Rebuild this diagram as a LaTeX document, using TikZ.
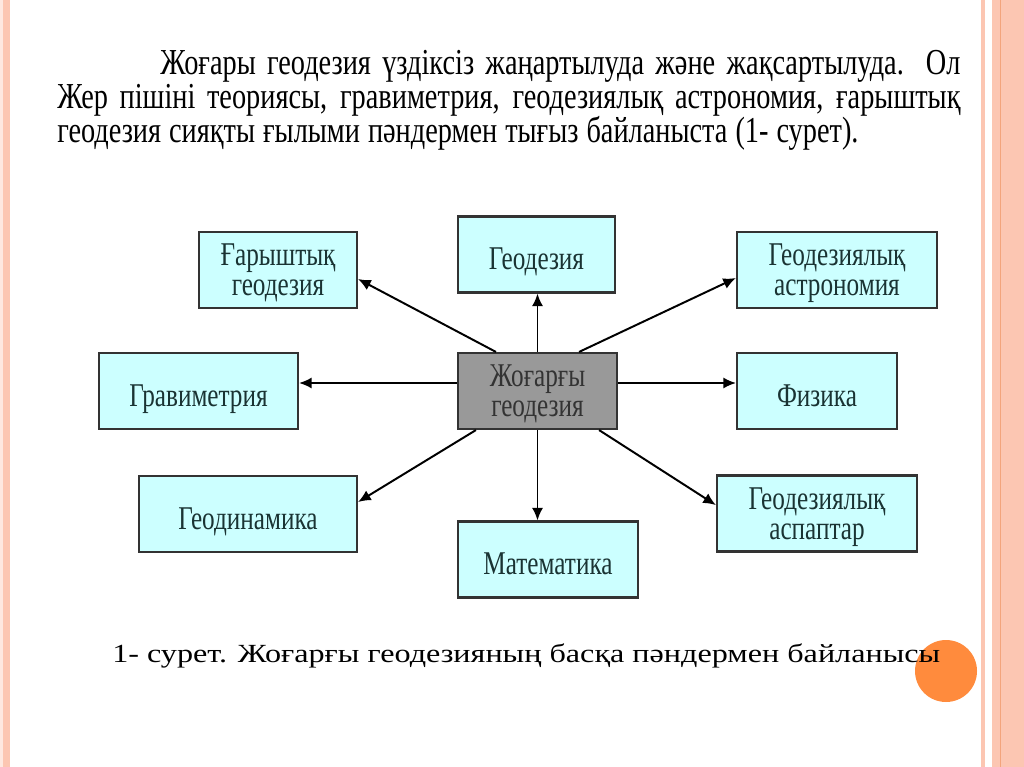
\documentclass[tikz,border=0pt]{standalone}
\usepackage{fontspec}
\setmainfont{Liberation Serif}[FakeStretch=0.76]
\newfontfamily\topfont{Liberation Serif}[FakeStretch=0.775]
\newfontfamily\capfont{Liberation Serif}[FakeStretch=1.23]
\usetikzlibrary{arrows.meta}
\definecolor{boxfill}{HTML}{CCFFFF}
\definecolor{hubfill}{HTML}{999999}
\definecolor{boxline}{HTML}{333333}
\definecolor{boxtext}{HTML}{1A3333}
\definecolor{framepink}{HTML}{FCC6B2}
\definecolor{framedark}{HTML}{F3A47C}
\definecolor{dotorange}{HTML}{FF8B3D}
\tikzset{
  box/.style={draw=boxline, line width=1.5pt, fill=boxfill, minimum height=1.9cm,
    align=center, inner sep=0pt, text=boxtext, text depth=0pt,
    font=\fontsize{23.6}{21.5}\selectfont},
  onebox/.style={box, text height=22pt},
  hubbox/.style={box, fill=hubfill, text=boxline},
  arr/.style={-{Latex[length=9pt,width=8pt]}, line width=1.4pt},
  line/.style={anchor=base west, inner sep=0pt, font=\topfont\fontsize{26}{26}\selectfont}
}
\begin{document}
\begin{tikzpicture}[x=0.025cm, y=-0.025cm]
\useasboundingbox (0,0) rectangle (1024,767);

%slide frame
\fill[framepink!40] (0,0) rectangle (3,767);
\fill[framepink] (3,0) rectangle (10,767);
\fill[framepink] (981,0) rectangle (985,767);
\fill[framepink] (992,0) rectangle (1024,767);
\fill[framedark] (999.5,0) rectangle (1001,767);
\fill[dotorange] (946,671) circle (31);

%text above
\node[line] (l1) at (160,75) {\makebox[20cm][s]{Жоғары геодезия үздіксіз жаңартылуда және жақсартылуда. Ол}};
\node[line] (l2) at (57,109) {\makebox[22.575cm][s]{Жер пішіні теориясы, гравиметрия, геодезиялық астрономия, ғарыштық}};
\node[line] (l3) at (57,143) {\makebox[20.025cm][s]{геодезия сияқты ғылыми пәндермен тығыз байланыста (1- сурет).}};

%boxes
\node[hubbox, minimum width=3.975cm] (hub) at (537.5,391) {Жоғарғы\\геодезия};
\node[box, minimum width=3.95cm] (kosmos) at (278,270) {Ғарыштық\\геодезия};
\node[onebox, minimum width=3.925cm] (geod) at (536.5,254.5) {Геодезия};
\node[box, minimum width=5cm] (astro) at (837,270) {Геодезиялық\\астрономия};
\node[onebox, minimum width=4.975cm] (grav) at (198.5,391) {Гравиметрия};
\node[onebox, minimum width=4cm] (fiz) at (817,391) {Физика};
\node[onebox, minimum width=5.45cm] (dyn) at (248,514) {Геодинамика};
\node[onebox, minimum width=4.5cm] (mat) at (548,559.5) {Математика};
\node[box, minimum width=5cm] (asp) at (817,513.5) {Геодезиялық\\аспаптар};

%connections
\draw[arr] ([xshift=0.975cm]hub.north west) -- ([yshift=-0.225cm]kosmos.east);
\draw[arr] (hub.north) -- (hub.north |- geod.south);
\draw[arr] ([xshift=-0.975cm]hub.north east) -- ([yshift=-0.2cm]astro.west);
\draw[arr] ([yshift=0.2cm]hub.west) -- ([yshift=0.2cm]hub.west -| grav.east);
\draw[arr] ([yshift=0.2cm]hub.east) -- ([yshift=0.2cm]hub.east -| fiz.west);
\draw[arr] ([xshift=0.475cm]hub.south west) -- ([yshift=0.3cm]dyn.east);
\draw[arr] (hub.south) -- (hub.south |- mat.north);
\draw[arr] ([xshift=-0.475cm]hub.south east) -- ([yshift=0.21cm]asp.west);

%caption
\node[line, font=\capfont\fontsize{18.6}{20}\selectfont] (cap) at (112,662) {1- сурет. Жоғарғы геодезияның басқа пәндермен байланысы};
\end{tikzpicture}
\end{document}
